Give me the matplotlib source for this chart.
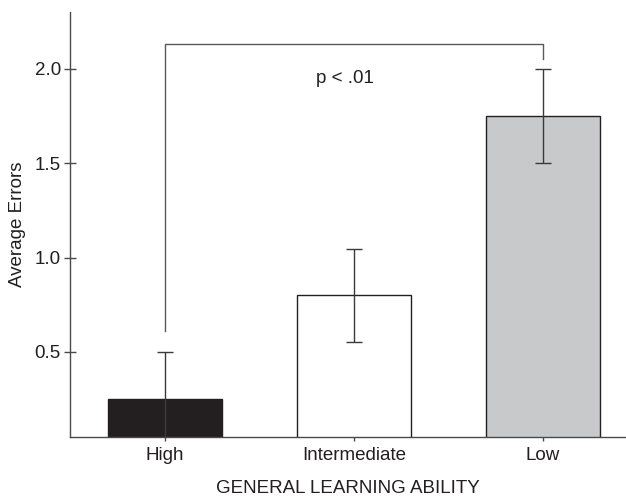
import matplotlib
matplotlib.use('Agg')
import matplotlib.pyplot as plt

# group means and error half-widths
groups = ['High', 'Intermediate', 'Low']
mean_errors = [0.25, 0.80, 1.75]
err = [0.25, 0.245, 0.25]
colors = ['#231f20', '#ffffff', '#c8c9cb']

plt.rcParams['font.family'] = ['Liberation Sans', 'DejaVu Sans']
fs = 13.5

fig = plt.figure(figsize=(6.26, 5), dpi=100)
ax = fig.add_axes([0.1118, 0.126, 0.8882, 0.85])

x = range(len(groups))
ax.bar(x, mean_errors, width=0.6, color=colors, edgecolor='#231f20', linewidth=1.0, zorder=2)
ax.errorbar(x, mean_errors, yerr=err, fmt='none', ecolor='#3a3a3a',
            elinewidth=1.0, capsize=6, capthick=1.0, zorder=3)

# significance bracket between High and Low
bracket_y = 2.13
ax.plot([0, 0, 2, 2], [0.61, bracket_y, bracket_y, 2.05], color='#5a5a5a', linewidth=1.0, zorder=1)
ax.text(0.95, 1.95, 'p < .01', ha='center', va='center', fontsize=fs, color='#231f20')

ax.set_xlim(-0.503, 2.44)
ax.set_ylim(0.05, 2.3)
ax.set_yticks([0.5, 1.0, 1.5, 2.0])
ax.set_yticklabels(['0.5', '1.0', '1.5', '2.0'])
ax.set_xticks(list(x))
ax.set_xticklabels(groups)

for side in ['top', 'right']:
    ax.spines[side].set_visible(False)
for side in ['left', 'bottom']:
    ax.spines[side].set_color('#4a4a4a')
    ax.spines[side].set_linewidth(1.0)

ax.tick_params(axis='y', direction='inout', length=9, width=1.0, color='#4a4a4a',
               labelsize=fs, labelcolor='#231f20', pad=2)
ax.tick_params(axis='x', direction='out', length=3, width=1.0, color='#4a4a4a',
               labelsize=fs, labelcolor='#231f20', pad=4)

ax.set_ylabel('Average Errors', fontsize=fs, color='#231f20', labelpad=6)
ax.set_xlabel('GENERAL LEARNING ABILITY', fontsize=fs, color='#231f20', labelpad=12)

plt.savefig('out.png', dpi=100)
plt.close()
